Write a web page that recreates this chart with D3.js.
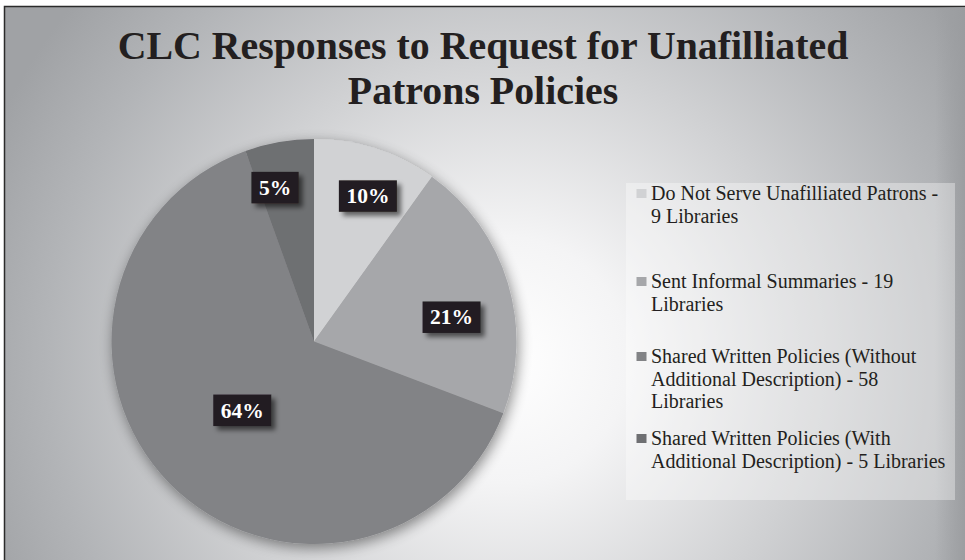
<!DOCTYPE html>
<html><head><meta charset="utf-8">
<script src="https://cdn.jsdelivr.net/npm/d3@7/dist/d3.min.js"></script>
<style>html,body{margin:0;padding:0;background:#fff;}svg{display:block;}</style>
</head><body>
<script>
const categories = [
  "Do Not Serve Unafilliated Patrons - 9 Libraries",
  "Sent Informal Summaries - 19 Libraries",
  "Shared Written Policies (Without Additional Description) - 58 Libraries",
  "Shared Written Policies (With Additional Description) - 5 Libraries"
];
const values = [9, 19, 58, 5];
const legendLines = [
  ["Do Not Serve Unafilliated Patrons -", "9 Libraries"],
  ["Sent Informal Summaries - 19", "Libraries"],
  ["Shared Written Policies (Without", "Additional Description) - 58", "Libraries"],
  ["Shared Written Policies (With", "Additional Description) - 5 Libraries"]
];
const colors = ["#d1d2d4", "#a6a7aa", "#828386", "#6e6f72"];
const labelRadius = [0.767, 0.69, 0.49, 0.785];
const labelAngleShift = [2.5, 6.7, 0.8, -4.3];
const titleLines = ["CLC Responses to Request for Unafilliated", "Patrons Policies"];

const W = 965, H = 560;
const SERIF = "'Liberation Serif','Times New Roman',serif";
const svg = d3.select("body").append("svg").attr("width", W).attr("height", H);
const defs = svg.append("defs");
const rg = defs.append("radialGradient").attr("id", "bg").attr("gradientUnits", "userSpaceOnUse")
  .attr("cx", 505).attr("cy", 360).attr("r", 560);
[[0, "#ffffff"], [0.22, "#f4f4f5"], [0.55, "#d0d1d3"], [0.82, "#b2b4b7"], [1, "#a0a2a5"]]
  .forEach(s => rg.append("stop").attr("offset", s[0]).attr("stop-color", s[1]));
const rightShade = defs.append("linearGradient").attr("id", "rs").attr("x1", 0).attr("x2", 1).attr("y1", 0).attr("y2", 0);
rightShade.append("stop").attr("offset", 0).attr("stop-color", "#9a9c9f").attr("stop-opacity", 0);
rightShade.append("stop").attr("offset", 1).attr("stop-color", "#9a9c9f").attr("stop-opacity", 0.9);
const sh = defs.append("filter").attr("id", "pieShadow").attr("x", "-20%").attr("y", "-20%").attr("width", "140%").attr("height", "140%");
sh.append("feGaussianBlur").attr("in", "SourceAlpha").attr("stdDeviation", 7).attr("result", "b");
sh.append("feOffset").attr("in", "b").attr("dx", 2).attr("dy", 4).attr("result", "o");
sh.append("feComponentTransfer").attr("in", "o").attr("result", "o2").append("feFuncA").attr("type", "linear").attr("slope", 0.45);
const m1 = sh.append("feMerge"); m1.append("feMergeNode").attr("in", "o2"); m1.append("feMergeNode").attr("in", "SourceGraphic");
const ls = defs.append("filter").attr("id", "lblShadow").attr("x", "-30%").attr("y", "-30%").attr("width", "170%").attr("height", "180%");
ls.append("feGaussianBlur").attr("in", "SourceAlpha").attr("stdDeviation", 2.5).attr("result", "b");
ls.append("feOffset").attr("in", "b").attr("dx", 4).attr("dy", 4).attr("result", "o");
ls.append("feComponentTransfer").attr("in", "o").attr("result", "o2").append("feFuncA").attr("type", "linear").attr("slope", 0.55);
const m2 = ls.append("feMerge"); m2.append("feMergeNode").attr("in", "o2"); m2.append("feMergeNode").attr("in", "SourceGraphic");

// background + frame
svg.append("rect").attr("x", 4.5).attr("y", 6.5).attr("width", W + 10).attr("height", H + 10)
  .attr("fill", "url(#bg)").attr("stroke", "#2b2b2b").attr("stroke-width", 1.5);
svg.append("rect").attr("x", 935).attr("y", 7).attr("width", 30).attr("height", H).attr("fill", "url(#rs)");

// title: condensed horizontally
const titleG = svg.append("g").attr("font-family", SERIF).attr("font-weight", "bold")
  .attr("font-size", 40).attr("fill", "#231f20").attr("text-anchor", "middle");
const titleBase = [59, 103.5];
const tNodes = titleLines.map((t, i) => titleG.append("text").text(t));
const sx = 731 / tNodes[0].node().getComputedTextLength();
tNodes.forEach((n, i) => n.attr("transform", `translate(483,${titleBase[i]}) scale(${sx},1)`));

// pie
const cx = 314, cy = 341.5, R = 202.5;
const pie = d3.pie().sort(null).value(d => d)(values);
const arc = d3.arc().innerRadius(0).outerRadius(R);
const total = d3.sum(values);
const g = svg.append("g").attr("transform", `translate(${cx},${cy})`);
g.append("g").attr("filter", "url(#pieShadow)").selectAll("path").data(pie).join("path")
  .attr("d", arc).attr("fill", (d, i) => colors[i]);

// labels
const lg = g.append("g").attr("font-family", SERIF)
  .attr("font-weight", "bold").attr("font-size", 21.5).attr("fill", "#fff");
pie.forEach((d, i) => {
  const r = R * labelRadius[i];
  const shift = labelAngleShift[i] * Math.PI / 180;
  const c = d3.arc().innerRadius(r).outerRadius(r)
    .startAngle(d.startAngle + shift).endAngle(d.endAngle + shift).centroid();
  const txt = Math.round(d.value / total * 100) + "%";
  const grp = lg.append("g").attr("transform", `translate(${c[0]},${c[1]})`);
  const rect = grp.append("rect").attr("fill", "#231f20").attr("filter", "url(#lblShadow)");
  const t = grp.append("text").attr("text-anchor", "middle").attr("y", 7.5).text(txt);
  const w = t.node().getComputedTextLength() + 15;
  rect.attr("x", -w / 2).attr("y", -15.5).attr("width", w).attr("height", 31.5);
});

// legend
svg.append("rect").attr("x", 626).attr("y", 183).attr("width", 329).attr("height", 317)
  .attr("fill", "#ffffff").attr("fill-opacity", 0.35);
const leg = svg.append("g").attr("font-family", SERIF)
  .attr("font-size", 20).attr("fill", "#231f20");
const legTop = [200, 288, 363, 445];
legendLines.forEach((lines, i) => {
  const y0 = legTop[i];
  leg.append("rect").attr("x", 636.5).attr("y", y0 - 11).attr("width", 10).attr("height", 9).attr("fill", colors[i]);
  lines.forEach((l, j) => leg.append("text").attr("x", 651).attr("y", y0 + j * 22.5).text(l));
});
</script>
</body></html>
